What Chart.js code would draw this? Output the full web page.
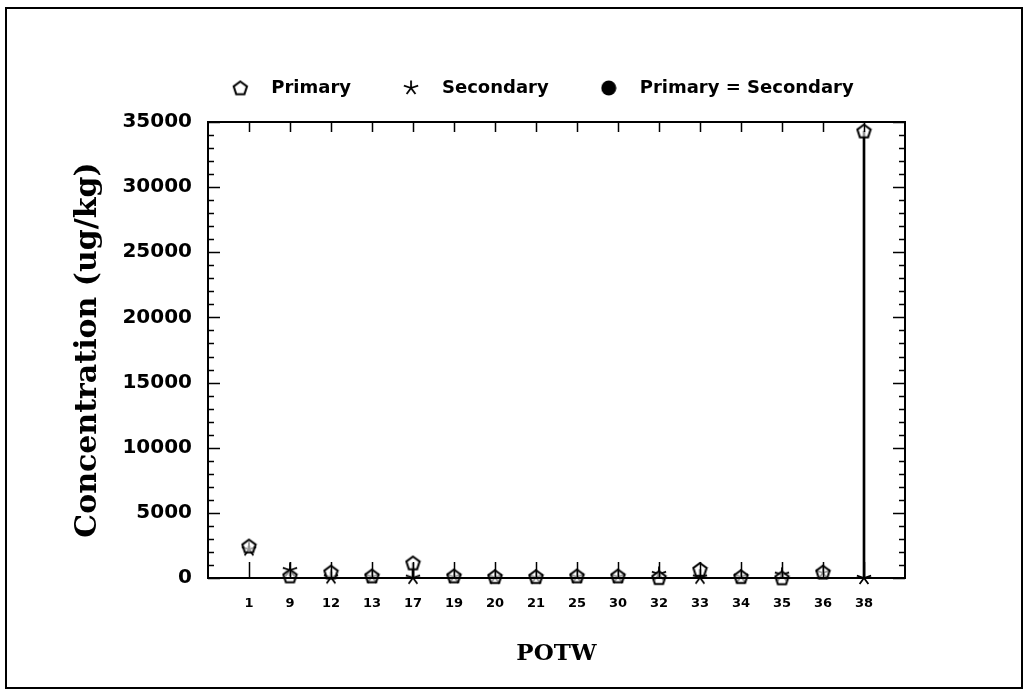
<!DOCTYPE html>
<html>
<head>
<meta charset="utf-8">
<script src="https://cdn.jsdelivr.net/npm/chart.js@4.4.0/dist/chart.umd.min.js"></script>
<style>
  html, body { margin: 0; padding: 0; background: #fff; }
</style>
</head>
<body>
<canvas id="myChart" width="1030" height="696"></canvas>
<script>
  // POTW categories and concentrations (ug/kg)
  const potw = ["1", "9", "12", "13", "17", "19", "20", "21", "25", "30", "32", "33", "34", "35", "36", "38"];
  const primary = [2450, 150, 450, 150, 1150, 150, 100, 100, 150, 150, 20, 650, 100, 0, 450, 34300];
  const secondary = [2200, 600, 50, 100, 20, 100, 50, 50, 100, 100, 300, 30, 100, 250, 400, 0];
  const primaryEqSecondary = [];
  const yTicks = [0, 5000, 10000, 15000, 20000, 25000, 30000, 35000];

  function pentagon(size) {
    var c = document.createElement("canvas");
    c.width = size; c.height = size;
    var ctx = c.getContext("2d");
    var r = size / 2 - 1.5;
    ctx.beginPath();
    for (var k = 0; k < 5; k++) {
      var a = -Math.PI / 2 + k * 2 * Math.PI / 5;
      var px = size / 2 + r * Math.cos(a), py = size / 2 + 0.5 + r * Math.sin(a);
      if (k === 0) ctx.moveTo(px, py); else ctx.lineTo(px, py);
    }
    ctx.closePath();
    ctx.fillStyle = "rgba(255,255,255,0.6)";
    ctx.fill();
    ctx.lineWidth = 2;
    ctx.strokeStyle = "#000";
    ctx.stroke();
    return c;
  }

  function star(size) {
    var c = document.createElement("canvas");
    c.width = size; c.height = size;
    var ctx = c.getContext("2d");
    var r = size / 2 - 0.5;
    ctx.beginPath();
    for (var k = 0; k < 5; k++) {
      var a = -Math.PI / 2 + k * 2 * Math.PI / 5;
      ctx.moveTo(size / 2, size / 2);
      ctx.lineTo(size / 2 + r * Math.cos(a), size / 2 + r * Math.sin(a));
    }
    ctx.lineWidth = 1.8;
    ctx.strokeStyle = "#000";
    ctx.stroke();
    return c;
  }

  function dot(size) {
    var c = document.createElement("canvas");
    c.width = size; c.height = size;
    var ctx = c.getContext("2d");
    ctx.beginPath();
    ctx.arc(size / 2, size / 2, size / 2 - 0.5, 0, Math.PI * 2);
    ctx.fillStyle = "#000";
    ctx.fill();
    return c;
  }

  const pentImg = pentagon(17);
  const starImg = star(16);
  const dotImg = dot(16);

  // frame + plot box + inside tick marks
  const framePlugin = {
    id: "frame",
    afterDraw(chart) {
      const ctx = chart.ctx, a = chart.chartArea;
      const y = chart.scales.y, x = chart.scales.x;
      ctx.save();
      ctx.strokeStyle = "#000";
      ctx.lineWidth = 2;
      ctx.strokeRect(6, 8, 1016, 680);
      ctx.strokeRect(a.left, a.top, a.right - a.left, a.bottom - a.top);
      ctx.lineWidth = 1.5;
      ctx.beginPath();
      for (var v = 0; v <= 35000; v += 1000) {
        var py = Math.round(y.getPixelForValue(v)) + 0.5;
        var len = v % 5000 === 0 ? 12 : 6;
        ctx.moveTo(a.left, py); ctx.lineTo(a.left + len, py);
        ctx.moveTo(a.right, py); ctx.lineTo(a.right - len, py);
      }
      potw.forEach(function (p, i) {
        var px = Math.round(x.getPixelForValue(i + 1)) + 0.5;
        ctx.moveTo(px, a.top); ctx.lineTo(px, a.top + 10);
        ctx.moveTo(px, a.bottom); ctx.lineTo(px, a.bottom - 16);
      });
      ctx.stroke();
      ctx.restore();
    }
  };

  const spacer = (fit) => ({
    type: "linear",
    display: true,
    min: 0,
    max: 1,
    grid: { display: false, drawTicks: false },
    border: { display: false },
    ticks: { display: false },
    afterFit: fit,
  });

  const config = {
    type: "scatter",
    data: {
      datasets: [
        {
          type: "bar",
          label: "range",
          data: potw.map((p, i) => ({ x: i + 1, y: [Math.min(primary[i], secondary[i]), Math.max(primary[i], secondary[i])] })),
          backgroundColor: "#000",
          barThickness: 2,
          order: 3,
        },
        {
          label: "Primary",
          data: potw.map((p, i) => ({ x: i + 1, y: primary[i] })),
          pointStyle: pentImg,
          order: 1,
        },
        {
          label: "Secondary",
          data: potw.map((p, i) => ({ x: i + 1, y: secondary[i] })),
          pointStyle: starImg,
          order: 2,
        },
        {
          label: "Primary = Secondary",
          data: primaryEqSecondary,
          pointStyle: dotImg,
          order: 0,
        },
      ],
    },
    options: {
      responsive: false,
      animation: false,
      clip: false,
      layout: { padding: { left: 62, right: 20, top: 41, bottom: 20 } },
      plugins: {
        tooltip: { enabled: false },
        legend: {
          position: "top",
          labels: {
            filter: (item) => item.datasetIndex !== 0,
            sort: (a, b) => a.datasetIndex - b.datasetIndex,
            usePointStyle: true,
            pointStyleWidth: 44,
            boxHeight: 14,
            padding: 38,
            color: "#000",
            font: { family: "DejaVu Sans", weight: "bold", size: 18 },
          },
        },
      },
      scales: {
        x: {
          type: "linear",
          min: 0,
          max: 17,
          offset: false,
          afterBuildTicks: (s) => { s.ticks = potw.map((p, i) => ({ value: i + 1 })); },
          afterFit: (s) => { s.height = 98; },
          grid: { display: false, drawTicks: false, offset: false },
          border: { color: "#000", width: 2 },
          ticks: {
            padding: 18,
            color: "#000",
            font: { family: "DejaVu Sans", weight: "bold", size: 13 },
            callback: (v) => potw[v - 1],
          },
          title: {
            display: true,
            text: "POTW",
            color: "#000",
            padding: { top: 0, bottom: 8 },
            font: { family: "DejaVu Serif", weight: "bold", size: 23 },
          },
        },
        xTop: Object.assign(spacer((s) => { s.height = 15; }), { position: "top", axis: "x" }),
        y: {
          min: 0,
          max: 35000,
          afterBuildTicks: (s) => { s.ticks = yTicks.map((v) => ({ value: v })); },
          afterFit: (s) => { s.width = 146; },
          grid: { display: false, drawTicks: false },
          border: { color: "#000", width: 2 },
          ticks: {
            padding: 16,
            color: "#000",
            font: { family: "DejaVu Sans", weight: "bold", size: 20 },
            callback: (v) => String(v),
          },
          title: {
            display: true,
            text: "Concentration (ug/kg)",
            color: "#000",
            padding: { top: 8, bottom: 0 },
            font: { family: "DejaVu Serif", weight: "bold", size: 30 },
          },
        },
        yRight: Object.assign(spacer((s) => { s.width = 105; }), { position: "right", axis: "y" }),
      },
    },
    plugins: [framePlugin],
  };

  const myChart = new Chart(document.getElementById("myChart"), config);
</script>
</body>
</html>
